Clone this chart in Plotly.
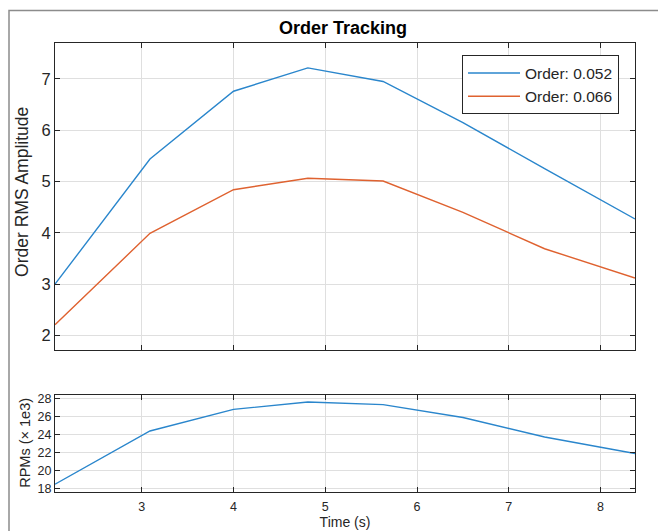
import plotly.graph_objects as go

# ---- data ----
time_s = [2.055, 3.09, 4.0, 4.81, 5.63, 6.5, 7.39, 8.375]
order_0052 = [3.0, 5.44, 6.76, 7.215, 6.95, 6.15, 5.25, 4.27]
order_0066 = [2.21, 3.99, 4.84, 5.065, 5.01, 4.40, 3.69, 3.12]
rpm_k = [18.48, 24.4, 26.8, 27.62, 27.33, 25.9, 23.73, 21.89]

amp_ticks = [2, 3, 4, 5, 6, 7]
rpm_ticks = [18, 20, 22, 24, 26, 28]
time_ticks = [3, 4, 5, 6, 7, 8]

BLUE = "#2a86cc"
ORANGE = "#df6230"
AX = "#262626"
GRID = "#dfdfdf"
FONT = "Liberation Sans, Arial, sans-serif"

fig = go.Figure()
fig.add_trace(go.Scatter(x=time_s, y=order_0052, mode="lines", name="Order: 0.052",
                         line=dict(color=BLUE, width=1.4), xaxis="x", yaxis="y"))
fig.add_trace(go.Scatter(x=time_s, y=order_0066, mode="lines", name="Order: 0.066",
                         line=dict(color=ORANGE, width=1.4), xaxis="x", yaxis="y"))
fig.add_trace(go.Scatter(x=time_s, y=rpm_k, mode="lines", name="RPM", showlegend=False,
                         line=dict(color=BLUE, width=1.4), xaxis="x2", yaxis="y2"))

# page offset: the browser body has an 8px margin
OFF = 8
W, H = 666 - OFF, 531 - OFF
L, R, T, B = 55 - OFF, 31, 42.5 - OFF, 39.3
pw = W - L - R
ph = H - T - B


def px(x):  # page x -> paper fraction
    return (x - 55) / pw


def py(y):  # page y -> paper fraction
    return (491.7 - y) / ph


top_lo = py(350)
bot_hi = py(394.3)

common_axis = dict(showline=True, linecolor=AX, linewidth=1, mirror="allticks",
                   ticks="inside", ticklen=5, tickcolor=AX, tickwidth=1,
                   showgrid=True, gridcolor=GRID, gridwidth=1, zeroline=False)

fig.update_layout(
    width=W, height=H,
    margin=dict(l=L, r=R, t=T, b=B, pad=0, autoexpand=False),
    paper_bgcolor="white", plot_bgcolor="white",
    font=dict(family=FONT, color=AX),
    xaxis=dict(common_axis, domain=[0, 1], anchor="y", range=[time_s[0], time_s[-1]],
               tickvals=time_ticks, showticklabels=False, matches="x2"),
    yaxis=dict(common_axis, domain=[top_lo, 1], anchor="x", range=[1.71, 7.70],
               tickvals=amp_ticks, tickfont=dict(size=16.5, color=AX), ticklabelstandoff=0),
    xaxis2=dict(common_axis, domain=[0, 1], anchor="y2", range=[time_s[0], time_s[-1]],
                tickvals=time_ticks, tickfont=dict(size=12.5, color=AX), ticklabelstandoff=3,
                title=dict(text="Time (s)", font=dict(size=14, color=AX), standoff=4)),
    yaxis2=dict(common_axis, domain=[0, bot_hi], anchor="x2", range=[17.62, 28.44],
                tickvals=rpm_ticks, tickfont=dict(size=12.5, color=AX), ticklabelstandoff=0),
    legend=dict(x=px(619), y=py(55), xanchor="right", yanchor="top",
                bgcolor="white", bordercolor=AX, borderwidth=1,
                font=dict(size=15.5, color=AX), itemwidth=52, tracegroupgap=0),
    showlegend=True,
)

fig.add_annotation(text="<b>Order Tracking</b>", xref="paper", yref="paper",
                   x=px(343), y=py(27), showarrow=False,
                   font=dict(size=18, color="black"), xanchor="center", yanchor="middle")
fig.add_annotation(text="Order RMS Amplitude", xref="paper", yref="paper",
                   x=px(22), y=py(191.5), showarrow=False,
                   textangle=-90, font=dict(size=17.5, color=AX), xanchor="center", yanchor="middle")
fig.add_annotation(text="RPMs (× 1e3)", xref="paper", yref="paper",
                   x=px(25.5), y=py(443), showarrow=False,
                   textangle=-90, font=dict(size=14.5, color=AX), xanchor="center", yanchor="middle")

# outer figure frame
fig.add_shape(type="rect", xref="paper", yref="paper",
              x0=px(9), x1=1.5, y0=-0.5, y1=py(10),
              line=dict(color="#8c8c8c", width=1.5), fillcolor="rgba(0,0,0,0)", layer="below")

fig.write_html("out.html")
